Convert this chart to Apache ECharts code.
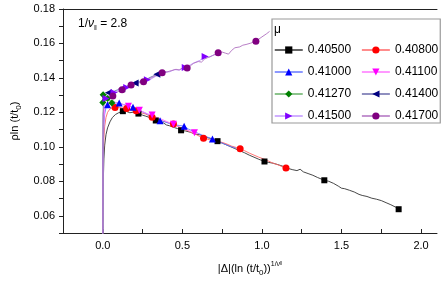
<!DOCTYPE html>
<html><head><meta charset="utf-8">
<script src="https://cdn.jsdelivr.net/npm/echarts@6/dist/echarts.min.js"></script>
<style>html,body{margin:0;padding:0;background:#fff}#c{width:442px;height:282px}</style>
</head><body><div id="c"></div>
<script>
const FONT = 'Liberation Sans, Arial, Helvetica, sans-serif';
const names = ['0.40500','0.40800','0.41000','0.41100','0.41270','0.41400','0.41500','0.41700'];
const xTicks = [0,0.25,0.5,0.75,1.0,1.25,1.5,1.75,2.0];
const xLabels = [0,0.5,1.0,1.5,2.0];
const yTicks = [0.05,0.06,0.07,0.08,0.09,0.10,0.11,0.12,0.13,0.14,0.15,0.16,0.17,0.18];
const yLabels = [0.06,0.08,0.10,0.12,0.14,0.16,0.18];

const line405 = [[0,0.045],[0.002,0.07],[0.004,0.083],[0.007,0.093],[0.012,0.101],[0.02,0.107],[0.03,0.111],[0.045,0.1145],[0.06,0.117],[0.08,0.1188],[0.1,0.1198],[0.126,0.1207],[0.15,0.1205],[0.17,0.1198],[0.19,0.1201],[0.224,0.1193],[0.25,0.1184],[0.27,0.1178],[0.29,0.1172],[0.31,0.1166],[0.333,0.1153],[0.36,0.1146],[0.38,0.114],[0.40,0.1127],[0.42,0.1122],[0.45,0.1112],[0.47,0.1106],[0.492,0.1096],[0.52,0.1092],[0.55,0.1085],[0.58,0.1074],[0.61,0.107],[0.64,0.1058],[0.67,0.105],[0.70,0.1042],[0.721,0.1033],[0.75,0.1022],[0.78,0.101],[0.80,0.1002],[0.83,0.099],[0.86,0.0978],[0.89,0.0966],[0.92,0.0952],[0.95,0.094],[0.98,0.0928],[1.016,0.0915],[1.04,0.091],[1.07,0.0905],[1.10,0.0897],[1.13,0.0888],[1.16,0.0876],[1.19,0.0868],[1.22,0.0862],[1.24,0.087],[1.26,0.0855],[1.29,0.0845],[1.32,0.0835],[1.35,0.0822],[1.392,0.0806],[1.42,0.08],[1.45,0.0788],[1.48,0.0772],[1.50,0.076],[1.52,0.0757],[1.55,0.0748],[1.58,0.0738],[1.61,0.0724],[1.63,0.0718],[1.66,0.0712],[1.69,0.0702],[1.72,0.0696],[1.75,0.0688],[1.78,0.0676],[1.81,0.0664],[1.84,0.065],[1.859,0.0638]];
const mark405 = [[0.126,0.1207],[0.224,0.1193],[0.333,0.1153],[0.492,0.1096],[0.721,0.1033],[1.016,0.0915],[1.392,0.0806],[1.859,0.0638]];

const line408 = [[0,0.045],[0.002,0.08],[0.004,0.095],[0.007,0.105],[0.012,0.112],[0.02,0.117],[0.03,0.12],[0.045,0.122],[0.06,0.1226],[0.077,0.1228],[0.1,0.1231],[0.12,0.1226],[0.15,0.1222],[0.18,0.1214],[0.21,0.121],[0.24,0.1198],[0.27,0.119],[0.30,0.1176],[0.33,0.1165],[0.36,0.1155],[0.39,0.1146],[0.42,0.1138],[0.444,0.1132],[0.47,0.112],[0.50,0.1106],[0.53,0.1095],[0.56,0.1082],[0.59,0.107],[0.61,0.106],[0.633,0.105],[0.66,0.1044],[0.69,0.1036],[0.72,0.103],[0.75,0.1026],[0.78,0.1016],[0.81,0.1004],[0.84,0.0996],[0.863,0.0989],[0.89,0.0978],[0.92,0.0964],[0.95,0.0952],[0.98,0.094],[1.01,0.093],[1.04,0.0918],[1.07,0.0905],[1.10,0.0896],[1.13,0.0884],[1.151,0.0877],[1.17,0.087]];
const mark408 = [[0.077,0.1228],[0.15,0.1222],[0.21,0.121],[0.31,0.1172],[0.444,0.1132],[0.633,0.105],[0.863,0.0989],[1.151,0.0877]];

const line410 = [[0,0.045],[0.002,0.09],[0.004,0.104],[0.007,0.113],[0.012,0.119],[0.02,0.1228],[0.03,0.1245],[0.045,0.1252],[0.06,0.1255],[0.08,0.1254],[0.103,0.1255],[0.13,0.1245],[0.16,0.124],[0.19,0.1228],[0.22,0.1215],[0.25,0.1203],[0.28,0.119],[0.31,0.1174],[0.34,0.116],[0.36,0.1152],[0.39,0.1145],[0.42,0.1135],[0.45,0.1128],[0.48,0.1124],[0.511,0.112],[0.54,0.1102],[0.57,0.109],[0.60,0.1078],[0.63,0.1066],[0.66,0.1056],[0.689,0.1046],[0.72,0.1032],[0.75,0.1022],[0.78,0.101],[0.81,0.1],[0.835,0.0993]];
const mark410 = [[0.03,0.1245],[0.103,0.1255],[0.19,0.123],[0.36,0.1152],[0.511,0.112],[0.689,0.1046]];

const line411 = [[0,0.045],[0.002,0.095],[0.004,0.108],[0.007,0.116],[0.012,0.1215],[0.02,0.1242],[0.03,0.1255],[0.045,0.1262],[0.06,0.1262],[0.08,0.1258],[0.1,0.1252],[0.13,0.1245],[0.161,0.1235],[0.19,0.1228],[0.22,0.1215],[0.25,0.1205],[0.28,0.1192],[0.31,0.1185],[0.34,0.117],[0.37,0.116],[0.40,0.1148],[0.42,0.114],[0.444,0.1131],[0.47,0.1118],[0.50,0.1108],[0.53,0.1098],[0.55,0.109],[0.576,0.1082],[0.60,0.1076]];
const mark411 = [[0.161,0.1235],[0.23,0.1212],[0.31,0.1185],[0.444,0.1131],[0.576,0.1082]];

const line4127 = [[0,0.045],[0.001,0.09],[0.002,0.113],[0.003,0.122],[0.002,0.126],[0.0,0.1285],[0.003,0.1305],[0.008,0.1292],[0.015,0.128],[0.022,0.1288],[0.03,0.1276],[0.04,0.1282],[0.05,0.1268],[0.06,0.1262],[0.067,0.1266],[0.075,0.126]];
const mark4127 = [[0.002,0.1302],[0.0,0.1257],[0.03,0.128],[0.057,0.1255]];

const line414 = [[0,0.045],[0.001,0.1],[0.003,0.119],[0.006,0.126],[0.012,0.1288],[0.02,0.13],[0.035,0.1314],[0.05,0.131],[0.07,0.1322],[0.09,0.133],[0.119,0.1337],[0.14,0.1345],[0.16,0.1358],[0.18,0.1362],[0.203,0.1371],[0.23,0.1378],[0.25,0.139],[0.27,0.1386],[0.29,0.14],[0.31,0.1408],[0.34,0.1422],[0.36,0.142],[0.38,0.1432],[0.40,0.1436]];
const mark414 = [[0.035,0.1314],[0.119,0.1337],[0.203,0.1371],[0.34,0.1422]];

const line415 = [[0,0.045],[0.001,0.1],[0.003,0.118],[0.007,0.1245],[0.015,0.1278],[0.025,0.1285],[0.04,0.13],[0.06,0.1312],[0.08,0.1318],[0.1,0.133],[0.12,0.1335],[0.14,0.1342],[0.17,0.1352],[0.2,0.136],[0.22,0.1372],[0.25,0.1378],[0.28,0.139],[0.3,0.1392],[0.33,0.1408],[0.36,0.1418],[0.39,0.1432],[0.42,0.1436],[0.45,0.1448],[0.48,0.1446],[0.518,0.146],[0.55,0.1476],[0.58,0.149],[0.61,0.1502],[0.643,0.1525],[0.67,0.152],[0.70,0.1535],[0.73,0.154]];
const mark415 = [[0.02,0.128],[0.07,0.1315],[0.15,0.1345],[0.28,0.139],[0.518,0.146],[0.643,0.1525]];

const line417 = [[0,0.045],[0.001,0.1],[0.003,0.119],[0.008,0.125],[0.02,0.1275],[0.04,0.1288],[0.063,0.1295],[0.08,0.1312],[0.1,0.1322],[0.121,0.1332],[0.14,0.134],[0.16,0.135],[0.178,0.1359],[0.2,0.1362],[0.23,0.1372],[0.256,0.1378],[0.28,0.1392],[0.3,0.1398],[0.33,0.1412],[0.35,0.1418],[0.373,0.143],[0.40,0.1434],[0.43,0.1442],[0.46,0.145],[0.48,0.1446],[0.50,0.1458],[0.53,0.1458],[0.55,0.147],[0.57,0.1485],[0.6,0.1495],[0.62,0.1492],[0.64,0.151],[0.66,0.1518],[0.69,0.153],[0.71,0.1538],[0.725,0.1546],[0.75,0.155],[0.77,0.1544],[0.79,0.1538],[0.81,0.156],[0.83,0.1575],[0.86,0.158],[0.88,0.159],[0.9,0.1594],[0.93,0.1602],[0.962,0.1613],[0.98,0.1625],[1.0,0.1638],[1.01,0.1645],[1.03,0.1657],[1.04,0.1652],[1.048,0.167]];
const mark417 = [[0.063,0.1295],[0.121,0.1332],[0.178,0.1359],[0.256,0.1378],[0.373,0.143],[0.53,0.1458],[0.725,0.1546],[0.962,0.1613]];

const lines = [line405,line408,line410,line411,line4127,line414,line415,line417];
const marks = [mark405,mark408,mark410,mark411,mark4127,mark414,mark415,mark417];
const markColors = ['#000000','#ff0000','#0000ff','#ff00ff','#008000','#000080','#8000ff','#800080'];
const lineColors = ['#333333','#ff6666','#6677ff','#ff77ff','#66b066','#6a6aaa','#c095ff','#b070c0'];
const symbols = ['rect','circle','triangle','triangle','diamond','triangle','triangle','circle'];
const rotates = [0,0,0,180,0,90,-90,0];
const sizes = [6,7,7,7,7,7,7,7];

const series = [];
names.forEach((n,i)=>{
  series.push({type:'line', name:n, data:lines[i], symbol:symbols[i], symbolRotate:rotates[i], symbolSize:sizes[i], showSymbol:false,
    lineStyle:{color:lineColors[i], width:0.9}, itemStyle:{color:markColors[i]}, z:2, clip:true});
});
names.forEach((n,i)=>{
  series.push({type:'scatter', name:n, data:marks[i], symbol:symbols[i], symbolRotate:rotates[i], symbolSize:sizes[i],
    itemStyle:{color:markColors[i], opacity:1}, z:3});
});

const chart = echarts.init(document.getElementById('c'), null, {renderer:'canvas'});
const axisCol = '#222';
chart.setOption({
  animation:false,
  textStyle:{fontFamily:FONT},
  grid:{left:63, right:5, top:9, bottom:46},
  legend:{
    data:names, left:272, top:19, width:165, orient:'horizontal',
    padding:[25,2,1,2], itemWidth:28, itemHeight:9, itemGap:10,
    borderColor:'#9a9a9a', borderWidth:1.2, backgroundColor:'#fff',
    textStyle:{fontSize:12, color:'#000', fontFamily:FONT},
    lineStyle:{width:1.5}
  },
  xAxis:[{
    type:'value', min:-0.25, max:2.1, position:'bottom',
    axisLine:{show:true, onZero:false, lineStyle:{color:axisCol, width:1}},
    axisTick:{show:true, inside:true, length:4, customValues:xTicks, lineStyle:{color:axisCol}},
    axisLabel:{customValues:xLabels, formatter:v=>v.toFixed(1), fontSize:11, color:'#000', margin:7, fontFamily:FONT},
    splitLine:{show:false},
    name:'{a||Δ|(ln (t/t}{s|0}{a|))}{p|1/ν}{q|‖}', nameLocation:'middle', nameGap:28,
    nameTextStyle:{rich:{
      a:{fontSize:11, fontFamily:FONT, color:'#000', lineHeight:16},
      s:{fontSize:8, fontFamily:FONT, color:'#000', lineHeight:8, verticalAlign:'bottom'},
      p:{fontSize:7, fontFamily:FONT, color:'#000', lineHeight:8, verticalAlign:'top'},
      q:{fontSize:5, fontFamily:FONT, color:'#000', lineHeight:10, verticalAlign:'top'}
    }}
  },{
    type:'value', min:-0.25, max:2.1, position:'top',
    axisLine:{show:true, onZero:false, lineStyle:{color:axisCol, width:1}},
    axisTick:{show:false}, axisLabel:{show:false}, splitLine:{show:false}
  }],
  yAxis:{
    type:'value', min:0.05, max:0.18,
    axisLine:{show:true, onZero:false, lineStyle:{color:axisCol, width:1}},
    axisTick:{show:true, inside:false, length:4, customValues:yTicks, lineStyle:{color:axisCol}},
    axisLabel:{customValues:yLabels, formatter:v=>v.toFixed(2), fontSize:11, color:'#000', margin:8, fontFamily:FONT},
    splitLine:{show:false},
    name:'{a|ρln (t/t}{s|0}{a|)}', nameLocation:'middle', nameGap:39,
    nameTextStyle:{rich:{
      a:{fontSize:11, fontFamily:FONT, color:'#000', lineHeight:16},
      s:{fontSize:8, fontFamily:FONT, color:'#000', lineHeight:8, verticalAlign:'bottom'}
    }}
  },
  graphic:[
    {type:'text', left:78, top:18, style:{
      text:'{a|1/}{n|ν}{s|‖}{a| = 2.8}',
      rich:{
        a:{fontSize:12, fontFamily:FONT, fill:'#000', lineHeight:16},
        n:{fontSize:12, fontFamily:FONT, fill:'#000', lineHeight:16, fontStyle:'italic'},
        s:{fontSize:7, fontFamily:FONT, fill:'#000', lineHeight:8, verticalAlign:'bottom'}
      }}},
    {type:'text', left:274, top:24, z:100, style:{text:'μ', fontSize:12, fontFamily:FONT, fill:'#000'}}
  ],
  series:series
});
</script></body></html>
